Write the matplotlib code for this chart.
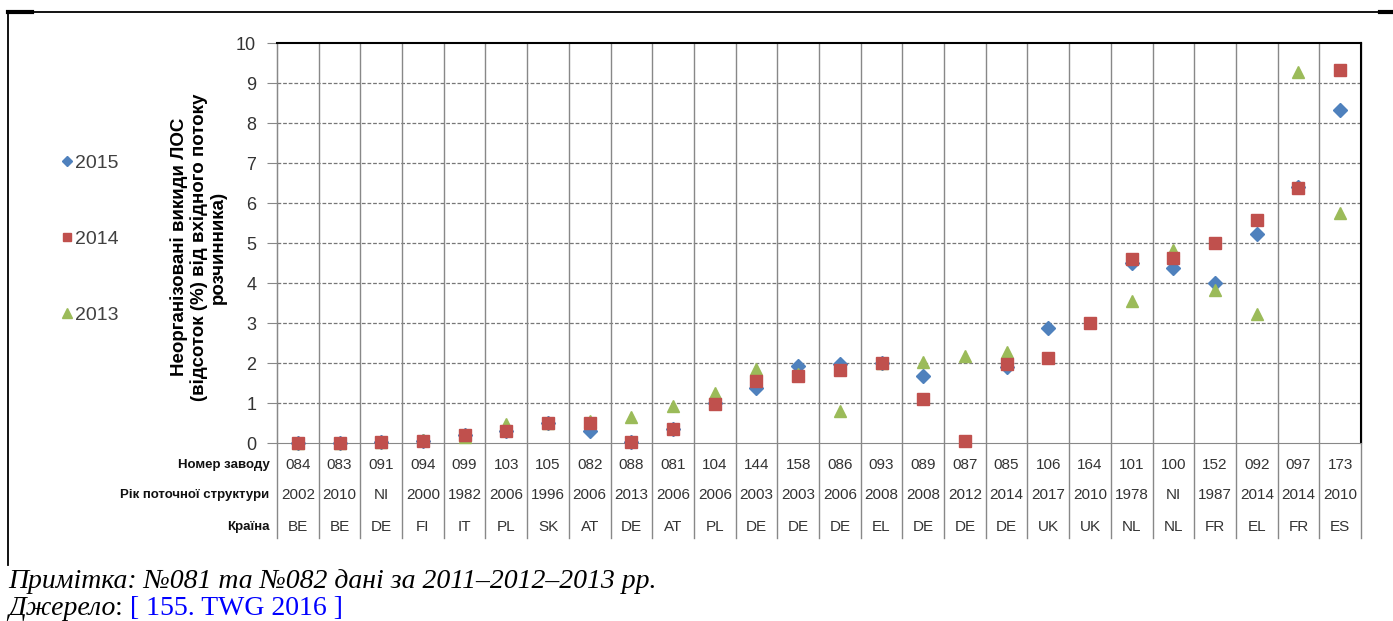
import matplotlib
matplotlib.use('Agg')
import matplotlib.pyplot as plt
from matplotlib import font_manager
from matplotlib.lines import Line2D
from matplotlib.text import Annotation
from matplotlib.transforms import blended_transform_factory
import numpy as np

nan = np.nan

# table under the chart
plants = ['084', '083', '091', '094', '099', '103', '105', '082', '088', '081', '104', '144', '158',
          '086', '093', '089', '087', '085', '106', '164', '101', '100', '152', '092', '097', '173']
years = ['2002', '2010', 'NI', '2000', '1982', '2006', '1996', '2006', '2013', '2006', '2006', '2003', '2003',
         '2006', '2008', '2008', '2012', '2014', '2017', '2010', '1978', 'NI', '1987', '2014', '2014', '2010']
countries = ['BE', 'BE', 'DE', 'FI', 'IT', 'PL', 'SK', 'AT', 'DE', 'AT', 'PL', 'DE', 'DE',
             'DE', 'EL', 'DE', 'DE', 'DE', 'UK', 'UK', 'NL', 'NL', 'FR', 'EL', 'FR', 'ES']
row_names = ['Номер заводу', 'Рік поточної структури', 'Країна']

# fugitive emissions, % of solvent input
v2015 = [0, 0, 0.03, 0.05, 0.2, 0.3, 0.5, 0.3, 0.03, 0.35, 1.0, 1.37, 1.93,
         1.97, 2.0, 1.68, nan, 1.9, 2.87, nan, 4.5, 4.37, 4.0, 5.22, 6.4, 8.32]
v2014 = [0, 0, 0.03, 0.05, 0.2, 0.3, 0.5, 0.5, 0.03, 0.35, 0.97, 1.55, 1.68,
         1.82, 2.0, 1.1, 0.05, 1.98, 2.13, 3.0, 4.6, 4.62, 5.0, 5.58, 6.37, 9.32]
v2013 = [0, 0, 0.03, 0.07, 0.15, 0.47, 0.5, 0.55, 0.65, 0.92, 1.25, 1.85, 1.72,
         0.8, 2.0, 2.02, 2.17, 2.28, nan, nan, 3.55, 4.82, 3.82, 3.22, 9.27, 5.75]

installed = {f.name for f in font_manager.fontManager.ttflist}
narrow = 'Liberation Sans Narrow' if 'Liberation Sans Narrow' in installed else 'Liberation Sans'
plt.rcParams['font.family'] = ['Liberation Sans', 'DejaVu Sans']

W, H = 1393, 621
fig = plt.figure(figsize=(W / 100, H / 100), dpi=100)
ax = fig.add_axes([277 / W, 1 - 443 / H, (1361 - 277) / W, 400 / H])

x = np.arange(len(plants))
l15, = ax.plot(x, v2015, ls='none', marker='D', ms=7, color='#4F81BD', clip_on=False, zorder=3)
l13, = ax.plot(x, v2013, ls='none', marker='^', ms=9, color='#9BBB59', clip_on=False, zorder=4)
l14, = ax.plot(x, v2014, ls='none', marker='s', ms=8.5, color='#C0504D', clip_on=False, zorder=5)

ax.set_xlim(-0.5, len(plants) - 0.5)
ax.set_ylim(0, 10)
ax.set_yticks(range(11))
ax.set_yticklabels([str(i) for i in range(11)], family=narrow, fontsize=13, color='#333333')
ax.tick_params(axis='y', length=7, color='#888888', pad=8)
ax.set_xticks([])

for yy in range(1, 10):
    ax.axhline(yy, color='#777777', lw=0.9, ls=(0, (3, 1.5)), zorder=1)

for s in ['left', 'bottom']:
    ax.spines[s].set_color('#888888')
for s in ['top', 'right']:
    ax.spines[s].set_color('black')
    ax.spines[s].set_linewidth(1.5)

# column boundaries run down through the table
tr = blended_transform_factory(ax.transData, ax.transAxes)
for b in np.arange(-0.5, len(plants), 1.0):
    ax.plot([b, b], [-0.2375, 1], transform=tr, color='#888888', lw=1, clip_on=False, zorder=1)

rows = [plants, years, countries]
row_y = [-0.055, -0.13, -0.21]
for vals, ry, name in zip(rows, row_y, row_names):
    for i, v in enumerate(vals):
        ax.text(i, ry, v, transform=tr, ha='center', va='center', family=narrow,
                fontsize=11, color='#333333')
    ax.text(-0.007, ry, name, transform=ax.transAxes, ha='right', va='center',
            fontsize=9.5, fontweight='bold', color='#111111')

fig.text(199 / W, 1 - 247 / H,
         'Неорганізовані викиди ЛОС\n(відсоток (%) від вхідного потоку\nрозчинника)',
         rotation=90, ha='center', va='center', multialignment='center',
         fontsize=13.5, fontweight='bold', linespacing=1.15)

fig.legend([l15, l14, l13], ['2015', '2014', '2013'], loc='center left',
           bbox_to_anchor=(62 / W, 1 - 239 / H), frameon=False, handlelength=0.5,
           handletextpad=0.15, labelspacing=3.0, borderpad=0, borderaxespad=0,
           markerscale=0.75, prop={'family': narrow, 'size': 14}, labelcolor='#404040')

# page frame
fig.add_artist(Line2D([8 / W, 1], [1 - 12 / H, 1 - 12 / H], color='black', lw=1.3))
fig.add_artist(Line2D([8 / W, 32 / W], [1 - 12 / H, 1 - 12 / H], color='black', lw=3))
fig.add_artist(Line2D([1380 / W, 1], [1 - 12 / H, 1 - 12 / H], color='black', lw=3))
fig.add_artist(Line2D([8 / W, 8 / W], [1 - 12 / H, 1 - 565 / H], color='black', lw=1.3))

fig.text(8 / W, 1 - 588 / H, 'Примітка: №081 та №082 дані за 2011–2012–2013 рр.',
         family='Liberation Serif', style='italic', fontsize=20, va='baseline')
t1 = fig.text(8 / W, 1 - 615 / H, 'Джерело', family='Liberation Serif', style='italic',
              fontsize=20, va='baseline')
a2 = fig.add_artist(Annotation(': ', xy=(1, 0), xycoords=t1, va='bottom',
                               family='Liberation Serif', fontsize=20))
fig.add_artist(Annotation('[ 155. TWG 2016 ]', xy=(1, 0), xycoords=a2, va='bottom',
                          family='Liberation Serif', fontsize=20, color='#0000FF'))

fig.savefig('out.png', dpi=100)
